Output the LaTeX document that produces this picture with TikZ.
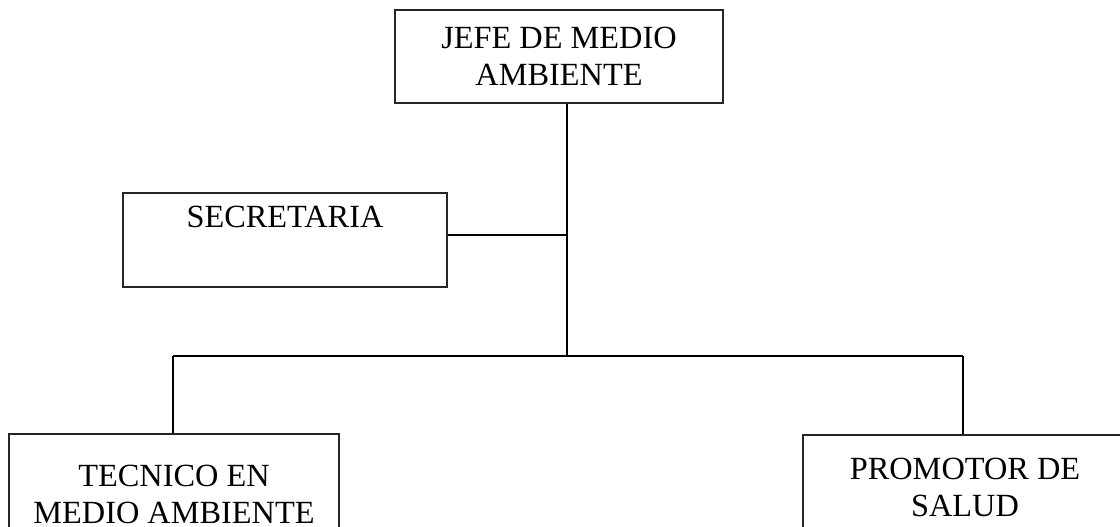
\documentclass[tikz,border=0pt]{standalone}
\usepackage{fontspec}
\setmainfont{Liberation Serif}
\usepackage{tikz}

\begin{document}
\begin{tikzpicture}[x=0.025cm,y=-0.025cm,
  cargo/.style={draw=black!85,line width=0.9pt,align=center,inner sep=0pt,
    font=\fontsize{23pt}{25.9pt}\selectfont},
  linea/.style={line width=1.3pt}]
\useasboundingbox (0,0) rectangle (1120,527);
\node[cargo,minimum width=8.2cm,minimum height=2.325cm] (jefe) at (559,56.5) {JEFE DE MEDIO\\AMBIENTE};
\node[cargo,minimum width=8.1cm,minimum height=2.35cm] (secretaria) at (285,240) {SECRETARIA\\\strut};
\node[cargo,minimum width=8.25cm,minimum height=3.025cm] (tecnico) at (174,494.5) {TECNICO EN\\MEDIO AMBIENTE};
\node[cargo,minimum width=8.1cm,minimum height=2.625cm] (promotor) at (965,487.5) {PROMOTOR DE\\SALUD};
\coordinate (bus) at (567,356);
\coordinate (busL) at (173,356);
\coordinate (busR) at (963,356);
\draw[linea] (jefe.south -| bus) -- (bus);
\draw[linea] ([yshift=0.125cm]secretaria.east) -- ([yshift=0.125cm]secretaria.east -| bus);
\draw[linea] (busL) -- (busR);
\draw[linea] (busL) -- (tecnico.north -| busL);
\draw[linea] (busR) -- (promotor.north -| busR);
\end{tikzpicture}
\end{document}
